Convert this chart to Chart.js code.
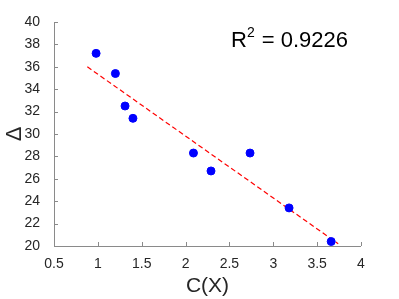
<!DOCTYPE html>
<html>
<head>
<meta charset="utf-8">
<script src="https://cdn.jsdelivr.net/npm/chart.js@4"></script>
<style>
  html, body { margin: 0; padding: 0; background: #fff; }
  #wrap { width: 399px; height: 299px; }
</style>
</head>
<body>
<div id="wrap"><canvas id="scatterChart" width="399" height="299"></canvas></div>
<script>
// measured points
const xVals = [0.98, 1.2, 1.31, 1.4, 2.09, 2.29, 2.735, 3.18, 3.66];
const yVals = [37.2, 35.4, 32.5, 31.4, 28.3, 26.7, 28.3, 23.4, 20.4];
// dashed fit line end points
const fitX = [0.88, 3.74];
const fitY = [36.0, 20.2];
const xTicks = [0.5, 1, 1.5, 2, 2.5, 3, 3.5, 4];
const yTicks = [20, 22, 24, 26, 28, 30, 32, 34, 36, 38, 40];
const r2Text = '0.9226';

const axisColor = '#262626';

// ticks pointing into the plot, like matlab
const innerTicks = {
  id: 'innerTicks',
  afterDraw(chart) {
    const c = chart.ctx;
    const xs = chart.scales.x, ys = chart.scales.y;
    const a = chart.chartArea;
    c.save();
    c.strokeStyle = '#8a8a8a';
    c.lineWidth = 1;
    c.beginPath();
    c.moveTo(a.left + 0.5, a.top);
    c.lineTo(a.left + 0.5, a.bottom + 0.5);
    c.lineTo(a.right, a.bottom + 0.5);
    xTicks.forEach(v => {
      const px = Math.round(xs.getPixelForValue(v)) + 0.5;
      c.moveTo(px, a.bottom);
      c.lineTo(px, a.bottom - 4);
    });
    yTicks.forEach(v => {
      const py = Math.round(ys.getPixelForValue(v)) + 0.5;
      c.moveTo(a.left, py);
      c.lineTo(a.left + 4, py);
    });
    c.stroke();

    // R^2 label
    c.fillStyle = '#000';
    c.textBaseline = 'alphabetic';
    c.textAlign = 'left';
    c.font = '22px "Liberation Sans", Arial, sans-serif';
    let x0 = 231, base = 47;
    c.fillText('R', x0, base);
    x0 += c.measureText('R').width;
    c.font = '14px "Liberation Sans", Arial, sans-serif';
    c.fillText('2', x0, base - 10);
    x0 += c.measureText('2').width + 1;
    c.font = '22px "Liberation Sans", Arial, sans-serif';
    c.fillText(' = ' + r2Text, x0, base);
    c.restore();
  }
};

const ctx = document.getElementById('scatterChart').getContext('2d');
const chart = new Chart(ctx, {
  type: 'scatter',
  data: {
    datasets: [
      {
        label: 'data',
        data: xVals.map((x, i) => ({ x: x, y: yVals[i] })),
        backgroundColor: '#0000ff',
        borderColor: '#0000ff',
        pointRadius: 4,
        pointHoverRadius: 4,
        order: 1
      },
      {
        label: 'fit',
        type: 'line',
        data: fitX.map((x, i) => ({ x: x, y: fitY[i] })),
        borderColor: '#ff0000',
        borderWidth: 1.2,
        borderDash: [5, 3],
        pointRadius: 0,
        fill: false,
        order: 2
      }
    ]
  },
  options: {
    responsive: false,
    animation: false,
    events: [],
    layout: { padding: { top: 22, right: 38, left: 2, bottom: 0 } },
    plugins: {
      legend: { display: false },
      tooltip: { enabled: false }
    },
    scales: {
      x: {
        type: 'linear',
        min: 0.5,
        max: 4,
        afterBuildTicks: s => { s.ticks = xTicks.map(v => ({ value: v })); },
        afterFit: s => { s.height = 53; },
        grid: { display: false },
        border: { display: false },
        ticks: {
          color: axisColor,
          font: { size: 14, family: '"Liberation Sans", Arial, sans-serif' },
          padding: 2,
          maxRotation: 0,
          callback: v => String(v)
        },
        title: {
          display: true,
          text: 'C(X)',
          color: axisColor,
          font: { size: 21, family: '"Liberation Sans", Arial, sans-serif' },
          padding: { top: 2, bottom: 0 }
        }
      },
      y: {
        type: 'linear',
        min: 20,
        max: 40,
        afterBuildTicks: s => { s.ticks = yTicks.map(v => ({ value: v })); },
        afterFit: s => { s.width = 52; },
        grid: { display: false },
        border: { display: false },
        ticks: {
          color: axisColor,
          font: { size: 14, family: '"Liberation Sans", Arial, sans-serif' },
          padding: 6
        },
        title: {
          display: true,
          text: 'Δ',
          color: axisColor,
          font: { size: 22, family: '"Liberation Sans", Arial, sans-serif' },
          padding: { top: 0, bottom: 4 }
        }
      }
    }
  },
  plugins: [innerTicks]
});
</script>
</body>
</html>
